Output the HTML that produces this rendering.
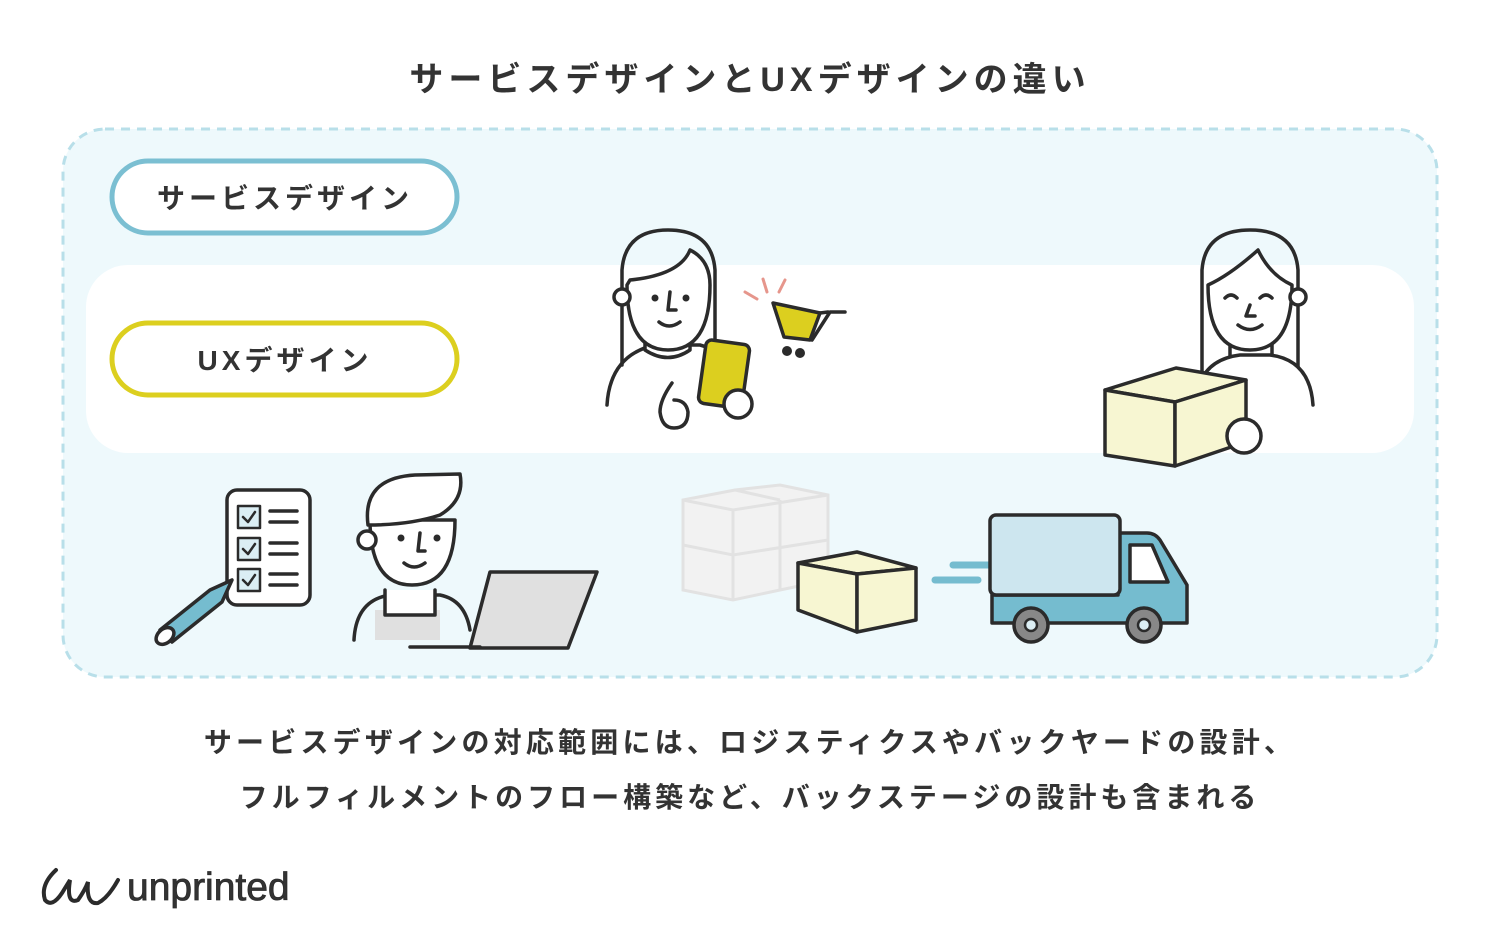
<!DOCTYPE html>
<html><head><meta charset="utf-8"><style>
html,body{margin:0;padding:0;background:#fff;}
svg{display:block}
text{font-family:"Liberation Sans","Noto Sans CJK JP",sans-serif;font-weight:bold;fill:#333}
</style></head><body>
<svg width="1500" height="938" viewBox="0 0 1500 938" xmlns="http://www.w3.org/2000/svg">
<text x="750" y="91" text-anchor="middle" font-size="34" letter-spacing="5">サービスデザインとUXデザインの違い</text>
<rect x="63" y="129" width="1374" height="548" rx="42" fill="#eef9fc" stroke="#b8dfe9" stroke-width="3" stroke-dasharray="9 7"/>
<rect x="86" y="265" width="1328" height="188" rx="42" fill="#fff"/>
<rect x="112" y="161" width="345" height="72" rx="36" fill="#fff" stroke="#7bbfd2" stroke-width="5"/>
<text x="285" y="208" text-anchor="middle" font-size="28" letter-spacing="4">サービスデザイン</text>
<rect x="112" y="323" width="345" height="72" rx="36" fill="#fff" stroke="#dccf1f" stroke-width="5"/>
<text x="285" y="370" text-anchor="middle" font-size="28" letter-spacing="4">UXデザイン</text>

<g fill="none" stroke="#2b2b2b" stroke-width="3.5" stroke-linecap="round" stroke-linejoin="round">
<path d="M607 405 Q610 355 655 345 L700 345 Q720 350 730 370" fill="#fff"/>
<path d="M645 330 L645 350 Q668 365 690 350 L690 330" fill="#fff"/>
<path d="M622 365 L622 270 Q625 230 668 230 Q712 230 715 270 L715 345"/>
<path d="M627 285 Q627 350 668 350 Q710 350 710 285 Q710 260 690 250 Q680 275 630 280 Z" fill="#fff"/>
<circle cx="622" cy="297" r="8" fill="#fff"/>
<path d="M670 292 L668 310 L676 310"/><path d="M659 322 Q669 330 680 322"/>
<rect x="702" y="342" width="44" height="64" rx="6" transform="rotate(8 724 374)" fill="#dccf1f"/>
<circle cx="738" cy="404" r="14" fill="#fff"/>
<path d="M672 383 Q660 400 660 412 Q662 428 674 428 Q688 428 688 412 Q686 400 674 400" fill="#fff"/>
<path d="M773 303 L820 313 L810 340 L784 337 Z" fill="#dccf1f"/>
<path d="M820 313 L828 312 M812 340 L830 312 L845 312" />
<path d="M1202 378 L1202 270 Q1205 230 1250 230 Q1295 230 1298 270 L1298 375"/>
<path d="M1230 338 L1230 358 Q1252 372 1272 358 L1272 338" fill="#fff"/>
<path d="M1196 400 Q1200 360 1240 355 L1270 355 Q1310 360 1313 405" fill="#fff"/>
<path d="M1208 285 Q1208 350 1250 350 Q1292 350 1292 285 Q1270 275 1258 250 Q1230 275 1208 285 Z" fill="#fff"/>
<circle cx="1298" cy="297" r="8" fill="#fff"/>
<path d="M1225 298 Q1231 292 1237 298 M1260 298 Q1266 292 1272 298"/>
<path d="M1250 305 L1246 316 L1255 316"/><path d="M1238 325 Q1250 334 1262 325"/>
<path d="M1105 390 L1175 402 L1246 380 L1176 368 Z" fill="#f7f6d2"/>
<path d="M1105 390 L1105 455 L1175 466 L1175 402 Z" fill="#f7f6d2"/>
<path d="M1175 402 L1246 380 L1246 442 L1175 466 Z" fill="#f7f6d2"/>
<circle cx="1244" cy="436" r="17" fill="#fff"/>
<rect x="227" y="490" width="83" height="115" rx="10" fill="#fff"/>
<rect x="238" y="506" width="22" height="22" fill="#dbeef4" stroke-width="2.5"/><rect x="238" y="538" width="22" height="22" fill="#dbeef4" stroke-width="2.5"/><rect x="238" y="569" width="22" height="22" fill="#dbeef4" stroke-width="2.5"/>
<path d="M243 517 L248 522 L255 512 M243 549 L248 554 L255 544 M243 580 L248 585 L255 575" stroke-width="2.5"/>
<path d="M270 511 L297 511 M270 522 L297 522 M270 543 L297 543 M270 554 L297 554 M270 574 L297 574 M270 585 L297 585"/>
<path d="M160 630 L210 590 L232 580 L222 602 L172 642 Z" fill="#75bccf"/>
<ellipse cx="165" cy="636" rx="7" ry="10" transform="rotate(50 165 636)" fill="#fff"/>
<path d="M354 640 Q356 600 390 595 L440 595 Q465 600 470 630"/>
<path d="M375 640 L375 610 L440 610 L440 640" fill="#e0e0e0" stroke="none"/>
<path d="M385 590 L385 615 L435 615 L435 590" fill="#fff"/>
<path d="M370 520 Q370 585 412 585 Q455 585 455 520 Z" fill="#fff"/>
<path d="M368 525 Q362 478 415 475 L460 474 Q465 500 440 515 Q410 525 368 525 Z" fill="#fff"/>
<circle cx="367" cy="540" r="9" fill="#fff"/>
<path d="M420 533 L418 551 L425 551"/><path d="M404 563 Q414 571 425 563"/>
<path d="M490 572 L597 572 L568 648 L470 648 Z" fill="#e0e0e0"/>
<path d="M410 647 L480 647"/>
</g>
<g fill="#2b2b2b"><circle cx="655" cy="298" r="3.5"/><circle cx="686" cy="298" r="3.5"/><circle cx="401" cy="538" r="3.5"/><circle cx="437" cy="538" r="3.5"/><circle cx="787" cy="351" r="5"/><circle cx="800" cy="353" r="5"/></g>
<path d="M745 292 L757 299 M763 279 L767 292 M785 280 L779 292" stroke="#e6968c" stroke-width="3" stroke-linecap="round"/>
<g fill="#f2f2f2" stroke="#e2e2e2" stroke-width="3">
<path d="M683 500 L735 490 L780 485 L828 495 L828 580 L780 590 L733 600 L683 590 Z"/>
<path d="M683 500 L733 510 L828 495 M733 510 L733 600 M780 500 L780 590 M683 545 L733 555 L828 540 M735 490 L780 500"/>
</g>
<g fill="#f7f6d2" stroke="#2b2b2b" stroke-width="3.5" stroke-linejoin="round">
<path d="M798 563 L857 574 L916 568 L857 552 Z"/>
<path d="M798 563 L798 610 L857 632 L857 574 Z"/>
<path d="M857 574 L916 568 L916 620 L857 632 Z"/>
</g>
<path d="M935 580 L978 580 M953 565 L1000 565" stroke="#75bccf" stroke-width="7" stroke-linecap="round"/>
<g stroke="#2b2b2b" stroke-width="3.5" stroke-linejoin="round">
<path d="M992 595 L1118 595 L1118 533 L1147 533 Q1155 533 1160 540 L1187 585 L1187 623 L992 623 Z" fill="#75bccf"/>
<rect x="990" y="515" width="130" height="80" rx="6" fill="#cde6ef"/>
<path d="M1130 545 L1152 545 L1168 582 L1130 582 Z" fill="#fff"/>
<circle cx="1031" cy="625" r="17" fill="#888"/><circle cx="1031" cy="625" r="6" fill="#dbeef4" stroke-width="2.5"/>
<circle cx="1144" cy="625" r="17" fill="#888"/><circle cx="1144" cy="625" r="6" fill="#dbeef4" stroke-width="2.5"/>
</g>
<text x="750" y="752" text-anchor="middle" font-size="28" letter-spacing="4.2">サービスデザインの対応範囲には、ロジスティクスやバックヤードの設計、</text>
<text x="750" y="807" text-anchor="middle" font-size="28" letter-spacing="4">フルフィルメントのフロー構築など、バックステージの設計も含まれる</text>
<path d="M56 870 Q40 885 45 900 Q52 908 62 893 L70 880 Q66 905 78 900 Q85 890 88 882 Q86 905 98 903 Q108 898 118 880" fill="none" stroke="#2b2b2b" stroke-width="4" stroke-linecap="round"/>
<text x="127" y="900" font-size="39" style="font-weight:normal" fill="#2b2b2b" stroke="#2b2b2b" stroke-width="0.8">unprinted</text>
</svg>
</body></html>
